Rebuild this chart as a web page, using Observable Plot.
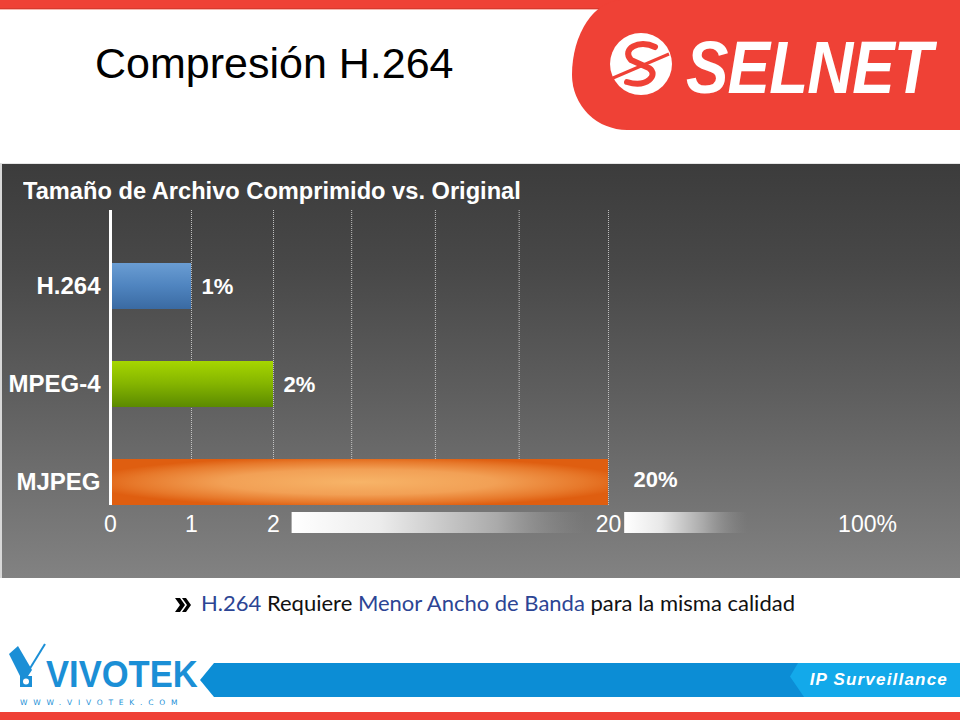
<!DOCTYPE html>
<html><head><meta charset="utf-8">
<script src="https://cdn.jsdelivr.net/npm/d3@7"></script>
<script src="https://cdn.jsdelivr.net/npm/@observablehq/plot@0.6"></script>
<style>
body{margin:0;background:#fff;}
#page{position:relative;width:960px;height:720px;overflow:hidden;background:#fff;font-family:"Liberation Sans",Arial,sans-serif;}
#topbar{position:absolute;left:0;top:0;width:960px;height:8px;background:#ef4136;border-bottom:1px solid #d63a2f;box-shadow:0 1px 0 #f7b5ae;}
#logoShape{position:absolute;left:572px;top:0;width:388px;height:130px;background:#ef4136;border-radius:50px 0 0 55px / 75px 0 0 55px;}
#logoCircle{position:absolute;left:37px;top:32px;}
#selnet{position:absolute;left:114px;top:31px;font:italic bold 74px/1 "Liberation Sans",Arial,sans-serif;color:#fff;transform:scaleX(0.86);transform-origin:left top;letter-spacing:-1px;}
#title{position:absolute;left:95px;top:42px;font:43px/1 "Liberation Sans",Arial,sans-serif;color:#000;white-space:nowrap;}
#panel{position:absolute;left:0;top:163px;width:960px;height:415px;background:linear-gradient(to bottom,#3c3c3c 0%,#484848 25%,#5e5e5e 55%,#828282 100%);border-top:1px solid #e6e6e6;border-left:2px solid #d8d8d8;box-sizing:border-box;}
#chart{position:absolute;left:-2px;top:-1px;}
#chartTitle{position:absolute;left:21px;top:15px;font:bold 24px/1 "Liberation Sans",Arial,sans-serif;color:#fff;white-space:nowrap;z-index:2;transform:scaleX(0.985);transform-origin:left top;}
#chart svg [aria-label^="y-axis"] text{font-weight:bold;font-size:24px;}
#caption{position:absolute;left:175px;top:590px;font:22px/1.2 Lato,"Open Sans",sans-serif;color:#111;white-space:nowrap;}
#caption .b{color:#2c4594;}
#caption svg{vertical-align:-1px;margin-right:9px;}
#band{position:absolute;left:200px;top:663px;width:760px;height:34px;background:#0c8dd5;clip-path:polygon(14px 0,100% 0,100% 100%,14px 100%,0 50%);}
#band2{position:absolute;left:790px;top:663px;width:170px;height:34px;background:#13a9ea;clip-path:polygon(8px 0,100% 0,100% 100%,14px 100%,0 40%);}
#ips{position:absolute;right:12px;top:671px;font:italic bold 17px/1 "Liberation Sans",Arial,sans-serif;color:#fff;letter-spacing:1.2px;}
#vivotek{position:absolute;left:46px;top:662px;font:900 36px/0.74 "Liberation Sans",Arial,sans-serif;color:#1b8fd6;transform:scaleX(0.96);transform-origin:left top;}
#www{position:absolute;left:20px;top:699px;font:7.5px/1 "DejaVu Sans",sans-serif;color:#1b8fd6;letter-spacing:5.8px;}
#vicon{position:absolute;left:8px;top:642px;}
#bottombar{position:absolute;left:0;top:712px;width:960px;height:8px;background:#ef4136;}
</style></head><body>
<div id="page">
  <div id="topbar"></div>
  <div id="logoShape">
    <svg id="logoCircle" width="64" height="64" viewBox="0 0 64 64">
      <circle cx="32" cy="32" r="31" fill="#fff"/>
      <path d="M46 15 C30 7,12 17,22 28 L40 36 C50 43,38 56,18 50" fill="none" stroke="#ef4136" stroke-width="6" stroke-linecap="round"/>
      <path d="M4 46 L60 22" stroke="#ef4136" stroke-width="3"/>
    </svg>
    <div id="selnet">SELNET</div>
  </div>
  <div id="title">Compresión H.264</div>
  <div id="panel">
    <div id="chart"></div>
    <div id="chartTitle">Tamaño de Archivo Comprimido vs. Original</div>
  </div>
  <div id="caption"><svg width="17" height="14" viewBox="0 0 17 14"><polygon points="0,0 5,0 10,7 5,14 0,14 5,7" fill="#000"/><polygon points="7,0 11,0 16,7 11,14 7,14 12,7" fill="#000"/></svg><span class="b">H.264</span> Requiere <span class="b">Menor Ancho de Banda</span> para la misma calidad</div>
  <svg id="vicon" width="42" height="46" viewBox="0 0 42 46">
    <polygon points="1,12 10,4 24,28 20,34 12,34" fill="#1b8fd6"/>
    <line x1="21" y1="28" x2="37" y2="2" stroke="#1b8fd6" stroke-width="2"/>
    <rect x="12" y="34" width="12" height="11" fill="#1b8fd6"/>
    <circle cx="18" cy="39.5" r="3" fill="#fff"/>
  </svg>
  <div id="vivotek">VIVOTEK</div>
  <div id="www">WWW.VIVOTEK.COM</div>
  <div id="band"></div>
  <div id="band2"></div>
  <div id="ips">IP Surveillance</div>
  <div id="bottombar"></div>
</div>
<script>
// ---- data ----
const categories = ["H.264", "MPEG-4", "MJPEG"];
const values = [1, 2, 20];
const barFills = ["url(#gradH264)", "url(#gradMPEG4)", "url(#gradMJPEG)"];
const tickValues = [0, 1, 2, 20, 100];
const tickLabels = ["0", "1", "2", "20", "100%"];
const gridValues = [1, 2, 6.2, 10.7, 15.2, 20];
const breakStarts = [3, 25];
const breakEnds = [18.8, 63];
const breakFills = ["url(#gradBreak1)", "url(#gradBreak2)"];

const data = categories.map((name, i) => ({name, value: values[i], fill: barFills[i]}));
const breaks = breakStarts.map((s, i) => ({x1: s, x2: breakEnds[i], fill: breakFills[i]}));

const chart = Plot.plot({
  width: 960,
  height: 415,
  marginTop: 47,
  marginBottom: 73,
  marginLeft: 110,
  marginRight: 93,
  style: {background: "transparent", color: "white", fontFamily: "'Liberation Sans', Arial, sans-serif", fontSize: "23px", overflow: "visible"},
  x: {type: "linear", domain: tickValues, range: [110, 191, 273, 608, 867], ticks: tickValues,
      tickFormat: d => tickLabels[tickValues.indexOf(d)], tickSize: 0, tickPadding: 10, label: null},
  y: {type: "band", domain: categories, range: [74, 368], paddingInner: 0.53, paddingOuter: 0.265,
      tickSize: 0, tickPadding: 10, label: null},
  color: {type: "identity"},
  marks: [
    Plot.ruleX(gridValues, {x: d => d, stroke: "#d4d4d4", strokeOpacity: 0.85, strokeWidth: 1, strokeDasharray: "1,1"}),
    Plot.rect(breaks, {x1: "x1", x2: "x2", fill: "fill", insetTop: 302, insetBottom: -28}),
    Plot.barX(data, {x: "value", y: "name", fill: "fill"}),
    Plot.text(data.filter(d => d.value < 10), {x: "value", y: "name", text: d => d.value + "%", textAnchor: "start", dx: 10, fill: "white", fontSize: 22, fontWeight: "bold"}),
    Plot.text(data.filter(d => d.value >= 10), {x: "value", y: "name", text: d => d.value + "%", textAnchor: "start", dx: 25, dy: -3, fill: "white", fontSize: 22, fontWeight: "bold"}),
    Plot.ruleX([0], {stroke: "white", strokeWidth: 3})
  ]
});

const svg = d3.select(chart);
const defs = svg.insert("defs", ":first-child");
function lin(id, stops, vertical) {
  const g = defs.append("linearGradient").attr("id", id)
    .attr("x1", 0).attr("y1", 0).attr("x2", vertical ? 0 : 1).attr("y2", vertical ? 1 : 0);
  stops.forEach(([o, c, op]) => g.append("stop").attr("offset", o).attr("stop-color", c).attr("stop-opacity", op ?? 1));
}
lin("gradH264", [[0, "#6a9dd3"], [0.5, "#4f84bf"], [1, "#3a6aa2"]], true);
lin("gradMPEG4", [[0, "#a6d600"], [0.5, "#84b400"], [1, "#5b8a00"]], true);
lin("gradBreak1", [[0, "#ffffff"], [0.3, "#ececec"], [0.7, "#aaaaaa"], [1, "#8a8a8a", 0]], false);
lin("gradBreak2", [[0, "#ffffff"], [0.3, "#e8e8e8"], [0.65, "#a8a8a8"], [1, "#8a8a8a", 0]], false);
const rg = defs.append("radialGradient").attr("id", "gradMJPEG").attr("cx", 0.5).attr("cy", 0.5).attr("r", 0.55);
[[0, "#f7b468"], [0.5, "#f2a055"], [0.82, "#e7792b"], [1, "#df5e10"]].forEach(([o, c]) => rg.append("stop").attr("offset", o).attr("stop-color", c));

document.getElementById("chart").appendChild(chart);
</script>
</body></html>
